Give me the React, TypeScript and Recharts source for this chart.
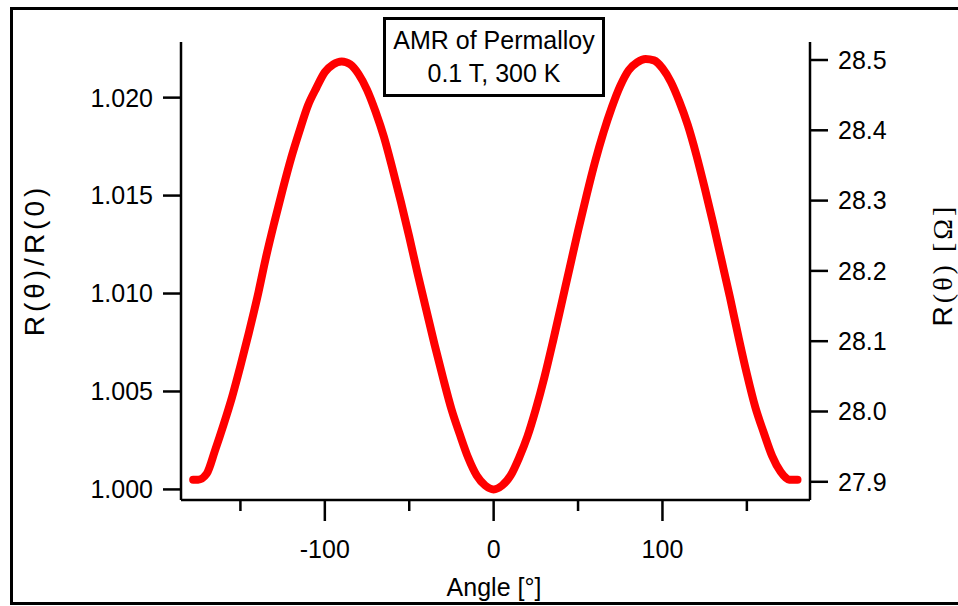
import React from "react";
import { ComposedChart, Line, XAxis, YAxis } from "recharts";

// AMR angle sweep
const angles = [
  -178, -175, -170, -165, -160, -155, -150, -145, -140, -135, -130, -125, -120, -115, -110, -105, -100, -95, -90,
  -85, -80, -75, -70, -65, -60, -55, -50, -45, -40, -35, -30, -25, -20, -15, -10, -5, 0,
  5, 10, 15, 20, 25, 30, 35, 40, 45, 50, 55, 60, 65, 70, 75, 80, 85, 90,
  95, 100, 105, 110, 115, 120, 125, 130, 135, 140, 145, 150, 155, 160, 165, 170, 173, 175, 180,
];
const ratio = [
  1.0005, 1.0005, 1.0008, 1.002, 1.0033, 1.0047, 1.0063, 1.008, 1.0098, 1.0118, 1.0136, 1.0153, 1.0169, 1.0183, 1.0196, 1.0205, 1.0213, 1.0217, 1.02185,
  1.0217, 1.0212, 1.0204, 1.0193, 1.018, 1.0164, 1.0147, 1.0129, 1.011, 1.0092, 1.0074, 1.0057, 1.0041, 1.0028, 1.0016, 1.0007, 1.0002, 1.0,
  1.0002, 1.0007, 1.0016, 1.0027, 1.0041, 1.0057, 1.0075, 1.0094, 1.0113, 1.0132, 1.015, 1.0167, 1.0182, 1.0195, 1.0206, 1.0214, 1.0218, 1.02197,
  1.0219, 1.0215, 1.0208, 1.0198, 1.0186, 1.0171, 1.0154, 1.0136, 1.0117, 1.0098, 1.0078, 1.0059, 1.0042, 1.0029, 1.0017, 1.0009, 1.0006, 1.0005, 1.0005,
];
const xTicks = [-150, -100, -50, 0, 50, 100, 150];
const xLabelled = [-100, 0, 100];
const leftTicks = [1.0, 1.005, 1.01, 1.015, 1.02];
const rightTicks = [27.9, 28.0, 28.1, 28.2, 28.3, 28.4, 28.5];

const data = angles.map((a, i) => ({ angle: a, ratio: ratio[i] }));

const FONT = '"Liberation Sans", Arial, sans-serif';
const SERIF = '"Liberation Serif", "Times New Roman", serif';

function AngleTick(props: any) {
  const { x, y, payload } = props;
  const major = xLabelled.includes(payload.value);
  return (
    <g>
      <line x1={x} x2={x} y1={y} y2={y + (major ? 21 : 11)} stroke="#000" strokeWidth={2.5} />
      {major && (
        <text x={x} y={y + 58} textAnchor="middle" fontSize={25} fontFamily={FONT} fill="#000">
          {payload.value}
        </text>
      )}
    </g>
  );
}

function LeftTitle() {
  return (
    <text
      transform="translate(34,260) rotate(-90)"
      textAnchor="middle"
      dominantBaseline="central"
      fontSize={28}
      letterSpacing={4}
      fontFamily={FONT}
      fill="#000"
    >
      R(θ)/R(0)
    </text>
  );
}

function RightTitle() {
  return (
    <text
      transform="translate(942,265) rotate(-90)"
      textAnchor="middle"
      dominantBaseline="central"
      fontSize={28}
      letterSpacing={3}
      fontFamily={FONT}
      fill="#000"
    >
      R<tspan fontFamily={SERIF}>(θ) [Ω]</tspan>
    </text>
  );
}

function XTitle() {
  return (
    <text x={494} y={596} textAnchor="middle" fontSize={25} fontFamily={FONT} fill="#000">
      Angle [°]
    </text>
  );
}

export default function App() {
  const axisLine = { stroke: "#000", strokeWidth: 2.5 };
  const tickLine = { stroke: "#000", strokeWidth: 2.5 };
  const tickStyle = { fill: "#000", fontSize: 25, fontFamily: FONT };
  return (
    <div
      style={{
        position: "absolute",
        left: 0,
        top: 0,
        width: 958,
        height: 606,
        overflow: "hidden",
        background: "#fff",
        fontFamily: FONT,
      }}
    >
      <ComposedChart width={958} height={606} data={data} margin={{ top: 42, right: 10, left: 10, bottom: 10 }}>
        <XAxis
          dataKey="angle"
          type="number"
          domain={[-185.2, 187.4]}
          ticks={xTicks}
          allowDataOverflow
          height={96}
          tickSize={0}
          tickMargin={0}
          tickLine={false}
          axisLine={axisLine}
          tick={<AngleTick />}
          label={<XTitle />}
        />
        <YAxis
          yAxisId="left"
          orientation="left"
          type="number"
          domain={[0.99946, 1.02284]}
          ticks={leftTicks}
          allowDataOverflow
          width={171}
          tickSize={18}
          tickMargin={10}
          tickLine={tickLine}
          axisLine={axisLine}
          tick={tickStyle}
          tickFormatter={(v: number) => v.toFixed(3)}
          label={<LeftTitle />}
        />
        <YAxis
          yAxisId="right"
          orientation="right"
          type="number"
          domain={[27.8741, 28.5256]}
          ticks={rightTicks}
          allowDataOverflow
          width={138}
          tickSize={18}
          tickMargin={10}
          tickLine={tickLine}
          axisLine={axisLine}
          tick={tickStyle}
          tickFormatter={(v: number) => v.toFixed(1)}
          label={<RightTitle />}
        />
        <Line
          yAxisId="left"
          dataKey="ratio"
          type="monotone"
          stroke="#ff0000"
          strokeWidth={8}
          strokeLinecap="round"
          strokeLinejoin="round"
          dot={false}
          isAnimationActive={false}
        />
      </ComposedChart>
      {/* outer frame */}
      <div
        style={{
          position: "absolute",
          left: 10,
          top: 7,
          width: 1000,
          height: 598,
          border: "3px solid #000",
          boxSizing: "border-box",
          pointerEvents: "none",
        }}
      />
      {/* title box */}
      <div
        style={{
          position: "absolute",
          left: 383,
          top: 17,
          width: 222,
          height: 80,
          border: "3px solid #000",
          boxSizing: "border-box",
          background: "#fff",
        }}
      />
      <div
        style={{
          position: "absolute",
          left: 383,
          top: 24,
          width: 222,
          textAlign: "center",
          fontSize: 25,
          lineHeight: "33px",
          color: "#000",
        }}
      >
        <div>AMR of Permalloy</div>
        <div>0.1 T, 300 K</div>
      </div>
    </div>
  );
}
